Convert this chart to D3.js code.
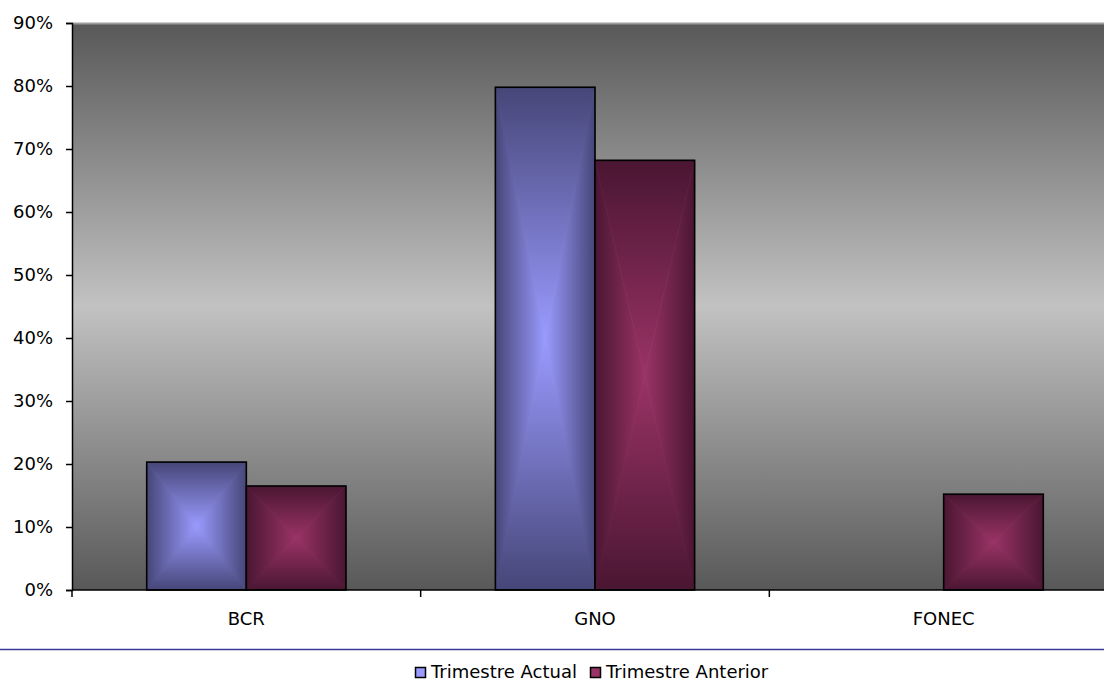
<!DOCTYPE html>
<html>
<head>
<meta charset="utf-8">
<script src="https://cdn.jsdelivr.net/npm/d3@7"></script>
<style>
  body { margin: 0; background: #fff; }
  svg text { font-family: "DejaVu Sans", sans-serif; fill: #000; }
</style>
</head>
<body>
<svg id="chart" width="1104" height="682"></svg>
<script>
const categories = ["BCR", "GNO", "FONEC"];
const seriesNames = ["Trimestre Actual", "Trimestre Anterior"];
const actual = [20.3, 79.8, 0];
const anterior = [16.5, 68.2, 15.2];
const yTicks = [0, 10, 20, 30, 40, 50, 60, 70, 80, 90];

// colours: edge, centre
const palette = [
  { edge: "#464678", mid: "#9a9aff" },
  { edge: "#4a1632", mid: "#9a3366" }
];

const W = 1104, H = 682;
const m = { left: 72, top: 23, right: -14, bottom: 92 };
const innerW = W - m.left - m.right;
const innerH = H - m.top - m.bottom;

const svg = d3.select("#chart");
const defs = svg.append("defs");

// plot background
const bg = defs.append("linearGradient").attr("id", "bg")
  .attr("x1", 0).attr("y1", 0).attr("x2", 0).attr("y2", 1);
bg.append("stop").attr("offset", "0%").attr("stop-color", "#585858");
bg.append("stop").attr("offset", "50%").attr("stop-color", "#c2c2c2");
bg.append("stop").attr("offset", "100%").attr("stop-color", "#585858");

// side gradients for the "from centre" bar fill
const sides = {
  top: [0, 0, 0, 1], bottom: [0, 1, 0, 0], left: [0, 0, 1, 0], right: [1, 0, 0, 0]
};
palette.forEach((p, i) => {
  Object.entries(sides).forEach(([k, v]) => {
    const lg = defs.append("linearGradient").attr("id", `g${i}-${k}`)
      .attr("x1", v[0]).attr("y1", v[1]).attr("x2", v[2]).attr("y2", v[3]);
    lg.append("stop").attr("offset", "0%").attr("stop-color", p.edge);
    lg.append("stop").attr("offset", "100%").attr("stop-color", p.mid);
  });
});

const g = svg.append("g").attr("transform", `translate(${m.left},${m.top})`);

const x0 = d3.scaleBand().domain(categories).range([0, innerW]).paddingInner(0).paddingOuter(0);
const x1 = d3.scaleBand().domain(seriesNames).range([0, x0.bandwidth()]).paddingInner(0).paddingOuter(0.75);
const y = d3.scaleLinear().domain([0, 90]).range([innerH, 0]);

g.append("rect")
  .attr("width", innerW).attr("height", innerH)
  .attr("fill", "url(#bg)");
g.append("line")
  .attr("x1", 0).attr("x2", innerW).attr("y1", 0.5).attr("y2", 0.5)
  .attr("stroke", "#9c9c9c").attr("stroke-width", 2);

// bars
const rows = [];
categories.forEach((c, ci) => {
  [actual, anterior].forEach((s, si) => {
    if (s[ci] > 0) rows.push({ cat: c, series: seriesNames[si], si, v: s[ci] });
  });
});

const bars = g.append("g").selectAll("g.bar")
  .data(rows)
  .enter()
  .append("g")
  .attr("class", "bar");

bars.each(function (d) {
  const b = d3.select(this);
  const xa = x0(d.cat) + x1(d.series), xb = xa + x1.bandwidth();
  const ya = y(d.v), yb = y(0);
  const cx = (xa + xb) / 2, cy = (ya + yb) / 2;
  const tri = {
    top: [[xa, ya], [xb, ya], [cx, cy]],
    bottom: [[xa, yb], [xb, yb], [cx, cy]],
    left: [[xa, ya], [xa, yb], [cx, cy]],
    right: [[xb, ya], [xb, yb], [cx, cy]]
  };
  Object.entries(tri).forEach(([k, pts]) => {
    b.append("path")
      .attr("d", d3.line()(pts) + "Z")
      .attr("fill", `url(#g${d.si}-${k})`)
      .attr("stroke", `url(#g${d.si}-${k})`)
      .attr("stroke-width", 0.6);
  });
  b.append("rect")
    .attr("x", xa).attr("y", ya)
    .attr("width", xb - xa).attr("height", yb - ya)
    .attr("fill", "none")
    .attr("stroke", "#000")
    .attr("stroke-width", 1.6);
});

// y axis
const yAxis = g.append("g")
  .call(d3.axisLeft(y).tickValues(yTicks).tickFormat((d) => d + "%").tickSize(6).tickPadding(13));
yAxis.select(".domain").attr("stroke", "#000").attr("stroke-width", 1.5);
yAxis.selectAll(".tick line").attr("stroke", "#000").attr("stroke-width", 1.5);
yAxis.selectAll("text").attr("font-size", "18px").style("font-family", "DejaVu Sans").attr("fill", "#111");

// x axis
const xAxis = g.append("g").attr("transform", `translate(0,${innerH})`);
xAxis.append("line")
  .attr("x1", 0).attr("x2", innerW)
  .attr("stroke", "#000").attr("stroke-width", 1.5);
xAxis.selectAll("line.sep")
  .data(categories.map((c) => x0(c)).concat([innerW]))
  .enter()
  .append("line")
  .attr("class", "sep")
  .attr("x1", (d) => d).attr("x2", (d) => d)
  .attr("y1", 0).attr("y2", 7)
  .attr("stroke", "#000").attr("stroke-width", 1.5);
xAxis.selectAll("text")
  .data(categories)
  .enter()
  .append("text")
  .attr("x", (d) => x0(d) + x0.bandwidth() / 2)
  .attr("y", 35)
  .attr("text-anchor", "middle")
  .attr("font-size", "18px")
  .attr("fill", "#111")
  .text((d) => d);

// separator line above legend
svg.append("line")
  .attr("x1", 0).attr("x2", W)
  .attr("y1", 649.5).attr("y2", 649.5)
  .attr("stroke", "#3a3a9a").attr("stroke-width", 1.5);

// legend
const legend = svg.append("g").attr("transform", "translate(415,678)");
const legX = [0, 175];
seriesNames.forEach((s, i) => {
  const lg = legend.append("g").attr("transform", `translate(${legX[i]},0)`);
  lg.append("rect")
    .attr("x", 0.5).attr("y", -10.5)
    .attr("width", 10).attr("height", 10)
    .attr("fill", palette[i].mid)
    .attr("stroke", "#000").attr("stroke-width", 1.5);
  lg.append("text")
    .attr("x", 16).attr("y", 0)
    .attr("font-size", "18px")
    .attr("fill", "#111")
    .text(s);
});
</script>
</body>
</html>
